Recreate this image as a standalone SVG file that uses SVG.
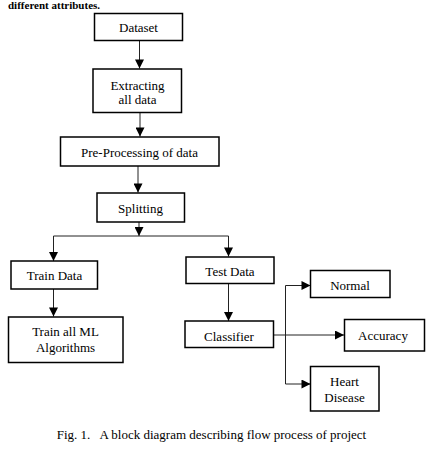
<svg xmlns="http://www.w3.org/2000/svg" width="433" height="454" viewBox="0 0 433 454">
<style>
.box{fill:#fff;stroke:#000;stroke-width:1.5}
.t{font-family:"Liberation Serif","Times New Roman",serif;font-size:13px;fill:#000;text-anchor:middle;dominant-baseline:central}
.cap{font-family:"Liberation Serif","Times New Roman",serif;font-size:13px;fill:#000;text-anchor:middle}
.ln{fill:none;stroke:#222;stroke-width:1}
</style>
<defs>
<marker id="ah" viewBox="0 0 10 10" refX="10" refY="5" markerWidth="10" markerHeight="9" markerUnits="userSpaceOnUse" orient="auto">
<path d="M0,0 L10,5 L0,10 Z" fill="#000"/>
</marker>
</defs>
<rect width="433" height="454" fill="#fff"/>
<text x="8" y="9" font-family="Liberation Serif, serif" font-size="11" font-weight="bold">different attributes.</text>
<g id="connectors">
<line class="ln" x1="139.5" y1="41" x2="139.5" y2="68.5" marker-end="url(#ah)"/>
<line class="ln" x1="140" y1="112.5" x2="140" y2="136.5" marker-end="url(#ah)"/>
<line class="ln" x1="138" y1="166" x2="138" y2="192.5" marker-end="url(#ah)"/>
<line class="ln" x1="139" y1="222" x2="139" y2="236" marker-end="url(#ah)"/>
<polyline class="ln" points="53.5,236 228.5,236"/>
<line class="ln" x1="53.5" y1="236" x2="53.5" y2="261" marker-end="url(#ah)"/>
<line class="ln" x1="228.5" y1="236" x2="228.5" y2="256.5" marker-end="url(#ah)"/>
<line class="ln" x1="53.5" y1="289" x2="53.5" y2="316.5" marker-end="url(#ah)"/>
<line class="ln" x1="228.5" y1="283.5" x2="228.5" y2="321" marker-end="url(#ah)"/>
<line class="ln" x1="273.5" y1="335" x2="344" y2="335" marker-end="url(#ah)"/>
<line class="ln" x1="285.5" y1="285.5" x2="285.5" y2="384"/>
<line class="ln" x1="285.5" y1="285.5" x2="310.5" y2="285.5" marker-end="url(#ah)"/>
<line class="ln" x1="285.5" y1="384" x2="310.5" y2="384" marker-end="url(#ah)"/>
</g>
<g id="dataset"><rect class="box" x="94.5" y="13.5" width="88" height="27"/><text class="t" x="138.5" y="27.5">Dataset</text></g>
<g id="extracting"><rect class="box" x="93" y="69" width="88.5" height="43.5"/><text class="t" x="137.5" y="85">Extracting</text><text class="t" x="137.5" y="99.5">all data</text></g>
<g id="preprocessing"><rect class="box" x="60.5" y="137" width="158.5" height="29"/><text class="t" x="139.5" y="152">Pre-Processing of data</text></g>
<g id="splitting"><rect class="box" x="97" y="193" width="87.5" height="29"/><text class="t" x="140.5" y="208">Splitting</text></g>
<g id="train-data"><rect class="box" x="11" y="261" width="86.5" height="28"/><text class="t" x="54.5" y="275.5">Train Data</text></g>
<g id="train-ml"><rect class="box" x="8.5" y="317" width="114.5" height="45.5"/><text class="t" x="65.5" y="331.5">Train all ML</text><text class="t" x="65.5" y="347">Algorithms</text></g>
<g id="test-data"><rect class="box" x="186" y="257" width="88" height="26.5"/><text class="t" x="230" y="271.5">Test Data</text></g>
<g id="classifier"><rect class="box" x="185" y="321" width="88.5" height="26.5"/><text class="t" x="229" y="336">Classifier</text></g>
<g id="normal"><rect class="box" x="310.5" y="270.5" width="79.5" height="27"/><text class="t" x="350" y="285.5">Normal</text></g>
<g id="accuracy"><rect class="box" x="344.5" y="319.5" width="80" height="31.5"/><text class="t" x="383" y="335">Accuracy</text></g>
<g id="heart-disease"><rect class="box" x="310.5" y="366.5" width="68.5" height="44.5"/><text class="t" x="344.5" y="381.5">Heart</text><text class="t" x="344.5" y="397.5">Disease</text></g>
<text class="cap" x="211.5" y="438.5" xml:space="preserve">Fig. 1.   A block diagram describing flow process of project</text>
</svg>
